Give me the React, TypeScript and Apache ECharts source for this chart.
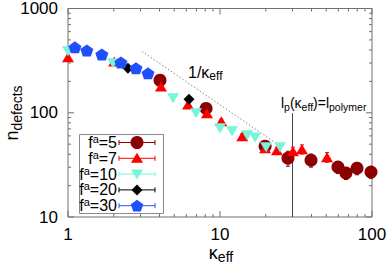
import React, { useEffect, useRef } from 'react';
import * as echarts from 'echarts';

const FONT = '"Liberation Sans", Arial, Helvetica, sans-serif';

// axis ticks
const xMajor = [1, 10, 100];
const yMajor = [10, 100, 1000];
const xMinor = [2, 3, 4, 5, 6, 7, 8, 9, 20, 30, 40, 50, 60, 70, 80, 90];
const yMinor = [20, 30, 40, 50, 60, 70, 80, 90, 200, 300, 400, 500, 600, 700, 800, 900];

// f^a = 5
const f5X = [4.03, 8.1, 19.8, 28.0, 39.7, 59.7, 67.4, 79.7, 98.5];
const f5Y = [205, 110, 47.8, 36.7, 35.1, 30.1, 26.4, 29.4, 27.0];
const f5Err = [12, 8, 4, 6, 5, 4, 3.5, 4, 3.5];
// f^a = 7
const f7X = [1.0, 2.01, 4.09, 6.16, 8.21, 10.2, 14.0, 19.8, 23.7, 30.2, 34.6, 50.6];
const f7Y = [340, 311, 179, 120, 99, 83, 59.6, 45.7, 43.8, 42.8, 44.7, 37.5];
const f7Err = [15, 12, 8, 6, 5, 4, 3, 2.5, 3, 4, 4.5, 4];
// f^a = 10
const f10X = [1.0, 1.98, 4.91, 6.95, 10.0, 12.0, 15.1, 17.0, 20.1, 24.8];
const f10Y = [388, 298, 138, 99, 71, 66.5, 61, 58, 46.8, 46.8];
const f10Err = [15, 10, 6, 4, 3, 3, 2.5, 2.5, 2.5, 2.5];
// f^a = 20
const f20X = [2.48, 6.25];
const f20Y = [267, 134.6];
const f20Err = [8, 6];
// f^a = 30
const f30X = [1.11, 1.33, 1.67, 2.23, 2.80, 3.36];
const f30Y = [424, 396, 363, 304, 267, 239];
const f30Err = [12, 10, 10, 8, 8, 6];

// guide lines
const slopeLine = [[3.07, 388], [24.8, 48]];
const persistenceLine = [[30, 10], [30, 99]];

const legendNames = ['5', '7', '10', '20', '30'];

const PENTAGON = 'path://M0,-1 L0.951,-0.309 L0.588,0.809 L-0.588,0.809 L-0.951,-0.309 Z';

const SERIES = [
  { name: '5', xs: f5X, ys: f5Y, err: f5Err, color: '#8b0000', symbol: 'circle', size: [13, 13], rotate: 0 },
  { name: '7', xs: f7X, ys: f7Y, err: f7Err, color: '#ff0000', symbol: 'triangle', size: [12, 10], rotate: 0 },
  { name: '10', xs: f10X, ys: f10Y, err: f10Err, color: '#78f5d8', symbol: 'triangle', size: [12, 10], rotate: 180 },
  { name: '20', xs: f20X, ys: f20Y, err: f20Err, color: '#000000', symbol: 'diamond', size: [11, 11], rotate: 0 },
  { name: '30', xs: f30X, ys: f30Y, err: f30Err, color: '#1f50ff', symbol: PENTAGON, size: [13, 12], rotate: 0 },
];

const AXIS_COLOR = '#707070';

export default function App() {
  const ref = useRef<HTMLDivElement>(null);
  useEffect(() => {
    document.body.style.margin = '0';
    const chart = echarts.init(ref.current!, null, { renderer: 'svg' });

    const tickData: number[][] = [];
    xMajor.forEach((v) => tickData.push([v, 10, 0]));
    xMinor.forEach((v) => tickData.push([v, 10, 1]));
    yMajor.forEach((v) => tickData.push([1, v, 2]));
    yMinor.forEach((v) => tickData.push([1, v, 3]));

    const series: any[] = [];
    series.push({
      type: 'custom',
      silent: true,
      encode: { x: 0, y: 1 },
      data: tickData,
      z: 1,
      renderItem: (params: any, api: any) => {
        const xv = api.value(0);
        const yv = api.value(1);
        const kind = api.value(2);
        const st = { stroke: AXIS_COLOR, lineWidth: 1 };
        if (kind === 0 || kind === 1) {
          const len = kind === 0 ? 6 : 3;
          const b = api.coord([xv, 10]);
          const t = api.coord([xv, 1000]);
          return {
            type: 'group',
            children: [
              { type: 'line', shape: { x1: b[0], y1: b[1], x2: b[0], y2: b[1] - len }, style: st },
              { type: 'line', shape: { x1: t[0], y1: t[1], x2: t[0], y2: t[1] + len }, style: st },
            ],
          };
        }
        const len = kind === 2 ? 6 : 3;
        const l = api.coord([1, yv]);
        const r = api.coord([100, yv]);
        return {
          type: 'group',
          children: [
            { type: 'line', shape: { x1: l[0], y1: l[1], x2: l[0] + len, y2: l[1] }, style: st },
            { type: 'line', shape: { x1: r[0], y1: r[1], x2: r[0] - len, y2: r[1] }, style: st },
          ],
        };
      },
    });

    series.push({
      type: 'line',
      data: slopeLine,
      symbol: 'none',
      silent: true,
      lineStyle: { color: '#888888', width: 1, type: [1.5, 2] },
      z: 2,
    });
    series.push({
      type: 'line',
      data: persistenceLine,
      symbol: 'none',
      silent: true,
      lineStyle: { color: '#444444', width: 1 },
      z: 2,
    });

    SERIES.forEach((s) => {
      const color = s.color;
      series.push({
        type: 'custom',
        silent: true,
        encode: { x: 0, y: 1 },
        data: s.xs.map((x, i) => [x, s.ys[i], s.err[i]]),
        z: 3,
        renderItem: (params: any, api: any) => {
          const x = api.value(0);
          const y = api.value(1);
          const e = api.value(2);
          const top = api.coord([x, y + e]);
          const bot = api.coord([x, y - e]);
          const cap = 2;
          const st = { stroke: color, lineWidth: 1 };
          return {
            type: 'group',
            children: [
              { type: 'line', shape: { x1: top[0], y1: top[1], x2: bot[0], y2: bot[1] }, style: st },
              { type: 'line', shape: { x1: top[0] - cap, y1: top[1], x2: top[0] + cap, y2: top[1] }, style: st },
              { type: 'line', shape: { x1: bot[0] - cap, y1: bot[1], x2: bot[0] + cap, y2: bot[1] }, style: st },
            ],
          };
        },
      });
      series.push({
        type: 'scatter',
        name: s.name,
        data: s.xs.map((x, i) => [x, s.ys[i]]),
        symbol: s.symbol,
        symbolSize: s.size,
        symbolRotate: s.rotate,
        itemStyle: { color, opacity: 1 },
        z: 3,
      });
    });

    // legend (drawn manually to show error-bar style)
    const legX = 79, legY = 134, legW = 84, legH = 79;
    const rowY0 = 142.5, rowStep = 15.8;
    const lineX1 = 119, lineX2 = 155, symX = 137;
    const graphics: any[] = [
      {
        type: 'rect',
        shape: { x: legX + 0.5, y: legY + 0.5, width: legW, height: legH },
        style: { fill: '#ffffff', stroke: '#8a8a8a', lineWidth: 1 },
        z: 10,
      },
    ];
    SERIES.forEach((s, i) => {
      const y = rowY0 + i * rowStep;
      const st = { stroke: s.color, lineWidth: 1 };
      graphics.push({ type: 'line', shape: { x1: lineX1, y1: y, x2: lineX2, y2: y }, style: st, z: 11 });
      graphics.push({ type: 'line', shape: { x1: lineX1, y1: y - 2.5, x2: lineX1, y2: y + 2.5 }, style: st, z: 11 });
      graphics.push({ type: 'line', shape: { x1: lineX2, y1: y - 2.5, x2: lineX2, y2: y + 2.5 }, style: st, z: 11 });
      let sym: any;
      if (i === 0) sym = { type: 'circle', shape: { cx: symX, cy: y, r: 6.5 } };
      else if (i === 1) sym = { type: 'polygon', shape: { points: [[symX, y - 5.5], [symX + 6, y + 4.5], [symX - 6, y + 4.5]] } };
      else if (i === 2) sym = { type: 'polygon', shape: { points: [[symX, y + 5.5], [symX + 6, y - 4.5], [symX - 6, y - 4.5]] } };
      else if (i === 3) sym = { type: 'polygon', shape: { points: [[symX, y - 5.5], [symX + 5.5, y], [symX, y + 5.5], [symX - 5.5, y]] } };
      else {
        const pts: number[][] = [];
        for (let k = 0; k < 5; k++) {
          const a = -Math.PI / 2 + (k * 2 * Math.PI) / 5;
          pts.push([symX + 6.5 * Math.cos(a), y + 0.5 + 6.5 * Math.sin(a)]);
        }
        sym = { type: 'polygon', shape: { points: pts } };
      }
      sym.style = { fill: s.color };
      sym.z = 12;
      graphics.push(sym);
      graphics.push({
        type: 'text',
        x: 117,
        y: y,
        z: 12,
        style: {
          text: `{m|f}{sup|a}{m|=${legendNames[i]}}`,
          align: 'right',
          verticalAlign: 'middle',
          rich: {
            m: { fontSize: 16, fontFamily: FONT, fill: '#000' },
            sup: { fontSize: 11, fontFamily: FONT, fill: '#000', padding: [0, 0, 7, 0] },
          },
        },
      });
    });

    // annotations and axis titles
    graphics.push({
      type: 'text',
      x: 188,
      y: 72,
      z: 12,
      style: {
        text: '{m|1/κ}{s|eff}',
        align: 'left',
        verticalAlign: 'middle',
        rich: {
          m: { fontSize: 16, fontFamily: FONT, fill: '#000' },
          s: { fontSize: 12, fontFamily: FONT, fill: '#000', padding: [8, 0, 0, 0] },
        },
      },
    });
    graphics.push({
      type: 'text',
      x: 281,
      y: 103,
      z: 12,
      style: {
        text: '{m|l}{s|p}{m|(κ}{s|eff}{m|)=l}{s|polymer}',
        align: 'left',
        verticalAlign: 'middle',
        rich: {
          m: { fontSize: 14, fontFamily: FONT, fill: '#000' },
          s: { fontSize: 10.5, fontFamily: FONT, fill: '#000', padding: [7, 0, 0, 0] },
        },
      },
    });
    graphics.push({
      type: 'text',
      x: 221,
      y: 253,
      z: 12,
      style: {
        text: '{m|κ}{s|eff}',
        align: 'center',
        verticalAlign: 'middle',
        rich: {
          m: { fontSize: 18, fontFamily: FONT, fill: '#000' },
          s: { fontSize: 14, fontFamily: FONT, fill: '#000', padding: [8, 0, 0, 0] },
        },
      },
    });
    graphics.push({
      type: 'text',
      x: 12,
      y: 113,
      rotation: Math.PI / 2,
      z: 12,
      style: {
        text: '{m|n}{s|defects}',
        align: 'center',
        verticalAlign: 'middle',
        rich: {
          m: { fontSize: 18, fontFamily: FONT, fill: '#000' },
          s: { fontSize: 14, fontFamily: FONT, fill: '#000', padding: [9, 0, 0, 0] },
        },
      },
    });

    chart.setOption({
      animation: false,
      grid: {
        left: 68,
        right: 18,
        top: 8,
        bottom: 49,
        show: true,
        borderColor: AXIS_COLOR,
        borderWidth: 1,
        backgroundColor: 'transparent',
      },
      xAxis: {
        type: 'log',
        logBase: 10,
        min: 1,
        max: 100,
        axisLine: { show: false },
        axisTick: { show: false },
        splitLine: { show: false },
        axisLabel: {
          fontSize: 17,
          color: '#000',
          fontFamily: FONT,
          margin: 9,
          formatter: (v: number) => String(v),
        },
      },
      yAxis: {
        type: 'log',
        logBase: 10,
        min: 10,
        max: 1000,
        axisLine: { show: false },
        axisTick: { show: false },
        splitLine: { show: false },
        axisLabel: {
          fontSize: 17,
          color: '#000',
          fontFamily: FONT,
          margin: 10,
          formatter: (v: number) => String(v),
        },
      },
      series,
      graphic: graphics,
    });
    return () => chart.dispose();
  }, []);
  return <div ref={ref} style={{ width: 390, height: 266 }} />;
}
